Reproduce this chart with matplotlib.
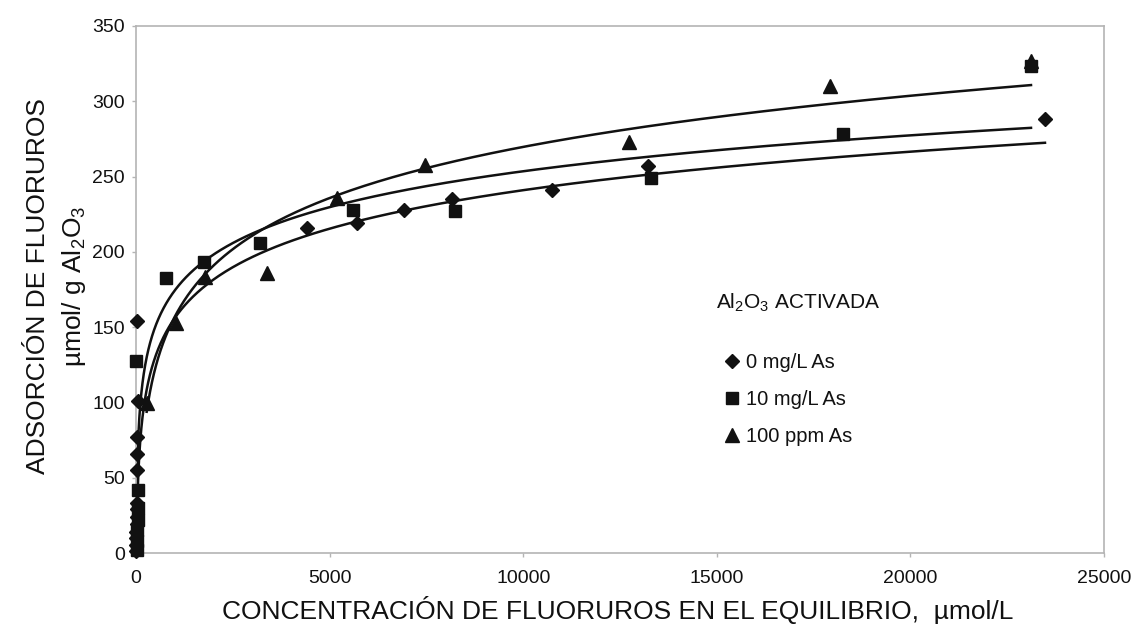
import numpy as np
import matplotlib
matplotlib.use("Agg")
import matplotlib.pyplot as plt
from matplotlib.lines import Line2D

plt.rcParams['font.family'] = ['Liberation Sans', 'DejaVu Sans']
plt.rcParams['mathtext.fontset'] = 'custom'
plt.rcParams['mathtext.rm'] = 'Liberation Sans'
plt.rcParams['mathtext.it'] = 'Liberation Sans:italic'
plt.rcParams['mathtext.bf'] = 'Liberation Sans:bold'

# Equilibrium fluoride concentration (umol/L) and adsorption (umol/g Al2O3)
conc_0 = [3, 5, 8, 10, 13, 16, 20, 24, 28, 33, 38, 45, 15,
          4408, 5700, 6921, 8153, 10744, 13231, 23476]
ads_0 = [1, 5, 10, 14, 19, 24, 29, 33, 55, 66, 77, 101, 154,
         215.6, 218.9, 227.8, 234.9, 241.0, 257.0, 288.2]

conc_10 = [20, 28, 35, 42, 50, 58, 10, 775, 1754, 3199, 5596, 8239,
           13292, 18268, 23115]
ads_10 = [2, 8, 15, 22, 30, 42, 127.5, 182.6, 193.0, 205.8, 227.8, 227.0,
          248.8, 278.2, 323.5]

conc_100 = [276, 1033, 1782, 3383, 5199, 7464, 12741, 17924, 23115]
ads_100 = [99.5, 153.0, 183.0, 186.0, 235.5, 257.6, 273.1, 310.1, 327.0]

# Logarithmic trend lines  q = a*ln(C) + b
trend_a = [36.9, 34.4, 49.0]
trend_b = [-98.9, -63.3, -181.6]

labels = ["0 mg/L As", "10 mg/L As", "100 ppm As"]
markers = ["D", "s", "^"]
msizes = [7.5, 8.5, 10]

W, H = 1136, 633
fig = plt.figure(figsize=(W / 100, H / 100), dpi=100)
ax = fig.add_axes([136 / W, 1 - 553 / H, (1104 - 136) / W, (553 - 26) / H])

series = [(conc_0, ads_0), (conc_10, ads_10), (conc_100, ads_100)]
handles = []
for (c, q), a, b, m, ms, lab in zip(series, trend_a, trend_b, markers, msizes, labels):
    c = np.asarray(c, float)
    cc = np.geomspace(c.min(), c.max(), 600)
    ax.plot(cc, a * np.log(cc) + b, color='#111111', lw=1.8, zorder=2)
    ax.plot(c, q, linestyle='none', marker=m, ms=ms, color='#111111',
            mec='#111111', zorder=3, clip_on=False)
    handles.append(Line2D([], [], linestyle='none', marker=m, ms=ms * 0.95,
                          color='#111111', label=lab))

ax.set_xlim(0, 25000)
ax.set_ylim(0, 350)
ax.set_xticks(np.arange(0, 25001, 5000))
ax.set_yticks(np.arange(0, 351, 50))
for sp in ax.spines.values():
    sp.set_color('#b4b4b4')
    sp.set_linewidth(1.2)
ax.tick_params(axis='both', colors='#b4b4b4', length=3, width=1,
               labelsize=14, labelcolor='#111111')
ax.tick_params(axis='y', pad=5)
ax.tick_params(axis='x', pad=9)

fig.text(57 / W, 1 - 286 / H,
         "ADSORCIÓN DE FLUORUROS\nµmol/ g Al$_2$O$_3$",
         rotation=90, ha='center', va='center', multialignment='center',
         fontsize=19, color='#111111', linespacing=1.45)
fig.text(618 / W, 1 - 610 / H,
         "CONCENTRACIÓN DE FLUORUROS EN EL EQUILIBRIO,  µmol/L",
         ha='center', va='center', fontsize=19, color='#111111')

fig.text(716 / W, 1 - 303 / H, "Al$_2$O$_3$ ACTIVADA",
         ha='left', va='center', fontsize=15, color='#111111')

leg = ax.legend(handles=handles, loc='upper left',
                bbox_to_anchor=((725 - 136) / 968, 1 - (353 - 26) / 527),
                frameon=False, fontsize=14.5, handlelength=0.7,
                handletextpad=0.35, labelspacing=0.9, borderpad=0,
                borderaxespad=0)
for t in leg.get_texts():
    t.set_color('#111111')

fig.savefig("out.png", dpi=100, facecolor='white')
